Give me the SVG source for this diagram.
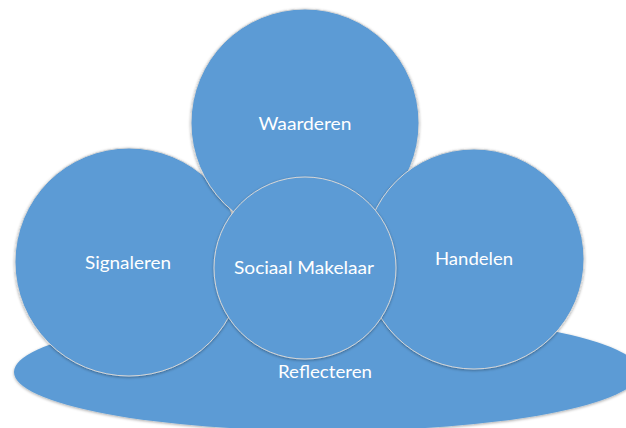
<svg xmlns="http://www.w3.org/2000/svg" width="626" height="428" viewBox="0 0 626 428">
<defs>
<filter id="sh" x="-10%" y="-10%" width="120%" height="120%">
<feGaussianBlur in="SourceAlpha" stdDeviation="1.5"/>
<feOffset dx="0" dy="0.5" result="b"/>
<feComponentTransfer><feFuncA type="linear" slope="0.35"/></feComponentTransfer>
<feMerge><feMergeNode/><feMergeNode in="SourceGraphic"/></feMerge>
</filter>
</defs>
<style>
.shape{fill:#5B9BD5;stroke:#D6D6D6;stroke-width:1;filter:url(#sh)}
.base{fill:#5B9BD5;stroke:none;filter:url(#sh)}
.lbl{font-family:Lato,"Open Sans","Liberation Sans",sans-serif;font-size:18px;fill:#FFFFFF;text-anchor:middle}
</style>
<rect width="626" height="428" fill="#FFFFFF"/>
<g id="reflecteren">
<ellipse class="base" cx="327" cy="372" rx="313" ry="59"/>
</g>
<g id="signaleren">
<circle class="shape" cx="129" cy="262" r="114"/>
<text class="lbl" x="128" y="269" textLength="86" lengthAdjust="spacingAndGlyphs">Signaleren</text>
</g>
<g id="waarderen">
<circle class="shape" cx="305" cy="123" r="114"/>
<text class="lbl" x="305" y="130" textLength="93" lengthAdjust="spacingAndGlyphs">Waarderen</text>
</g>
<g id="handelen">
<circle class="shape" cx="474" cy="259" r="110"/>
<text class="lbl" x="474" y="265" textLength="78" lengthAdjust="spacingAndGlyphs">Handelen</text>
</g>
<g id="sociaal-makelaar">
<circle class="shape" cx="305" cy="268" r="91"/>
<text class="lbl" x="304" y="274" textLength="140" lengthAdjust="spacingAndGlyphs">Sociaal Makelaar</text>
</g>
<g id="reflecteren-label">
<text class="lbl" x="325" y="378" textLength="94" lengthAdjust="spacingAndGlyphs">Reflecteren</text>
</g>
<g id="connectors"/>
</svg>
